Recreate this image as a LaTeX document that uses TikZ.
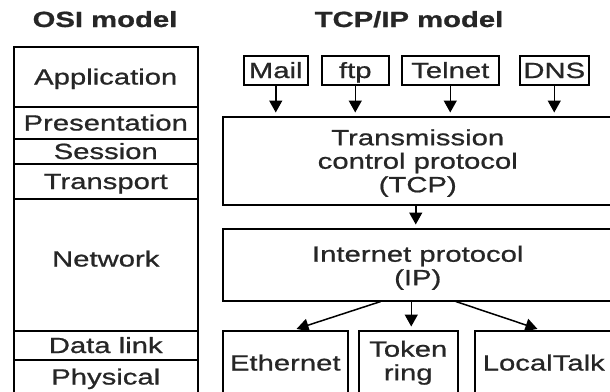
\documentclass[tikz,border=0pt]{standalone}
\usepackage{fontspec}
\setmainfont{Liberation Sans}[FakeStretch=1.33, FakeBold=0.8]
\usetikzlibrary{arrows.meta,calc}
\begin{document}
\begin{tikzpicture}[x=1pt,y=-1pt,
  every node/.style={font=\fontsize{22}{23.5}\selectfont, text=black!85},
  box/.style={draw=black, line width=1.5pt, inner sep=0pt, anchor=north west},
  one/.style={box, text height=15.5pt, text depth=0pt},
  lay/.style={one, minimum width=184pt},
  title/.style={font=\bfseries\fontsize{22}{24}\selectfont, anchor=base},
  arr/.style={-{Triangle[width=13pt,length=12pt]}, line width=1.5pt, shorten >=3.5pt},
]
\useasboundingbox (0,0) rectangle (610,391);
\clip (0,0) rectangle (610,391);
\fill[white] (0,0) rectangle (610,391);

% titles
\node[title] (osit) at (105,27) {OSI model};
\node[title] (tcpt) at (409,27) {TCP/IP model};

% OSI layers
\node[lay, minimum height=60pt]  (app)   at (13,46)  {Application};
\node[lay, minimum height=32pt]  (pres)  at (13,106) {Presentation};
\node[lay, minimum height=25pt]  (sess)  at (13,138) {Session};
\node[lay, minimum height=35pt]  (trans) at (13,163) {Transport};
\node[lay, minimum height=132pt, text depth=12pt] (net) at (13,198) {Network};
\node[lay, minimum height=29pt]  (dl)    at (13,330) {Data link};
\node[lay, minimum height=34pt]  (phys)  at (13,359) {Physical};

% application protocols
\node[one, minimum width=64pt, minimum height=29pt] (mail)   at (243,55) {Mail};
\node[one, minimum width=67pt, minimum height=29pt] (ftp)    at (321,55) {ftp};
\node[one, minimum width=97pt, minimum height=29pt] (telnet) at (401,55) {Telnet};
\node[one, minimum width=69pt, minimum height=29pt] (dns)    at (519,55) {DNS};

% TCP and IP
\node[box, align=center, minimum width=390pt, minimum height=88pt, text depth=0pt] (tcp) at (222,116)
  {Transmission\\control protocol\\(TCP)};
\node[box, align=center, minimum width=390pt, minimum height=72pt] (ip) at (222,228)
  {\rule{0pt}{22pt}Internet protocol\\(IP)};

% link layers
\node[one, minimum width=125pt, minimum height=64pt] (eth) at (222,330) {Ethernet};
\node[box, align=center, minimum width=99pt, minimum height=64pt] (tok) at (358,330) {Token\\ring};
\node[one, minimum width=138pt, minimum height=64pt] (lt)  at (474,330) {LocalTalk};

% arrows
\draw[arr] (mail.south)   -- (mail.south |- tcp.north);
\draw[arr] (ftp.south)    -- (ftp.south |- tcp.north);
\draw[arr] (telnet.south) -- (telnet.south |- tcp.north);
\draw[arr] (dns.south)    -- (dns.south |- tcp.north);
\draw[arr] ($(tcp.south)+(-2,0)$) -- ($(ip.north)+(-2,0)$);
\draw[arr] ($(ip.south)+(-37,0)$) -- ($(eth.north)+(8,0)$);
\draw[arr] ($(tok.north |- ip.south)+(3,0)$) -- ($(tok.north)+(3,0)$);
\draw[arr] ($(ip.south)+(38,0)$) -- ($(lt.north)+(-3,0)$);
\end{tikzpicture}
\end{document}
